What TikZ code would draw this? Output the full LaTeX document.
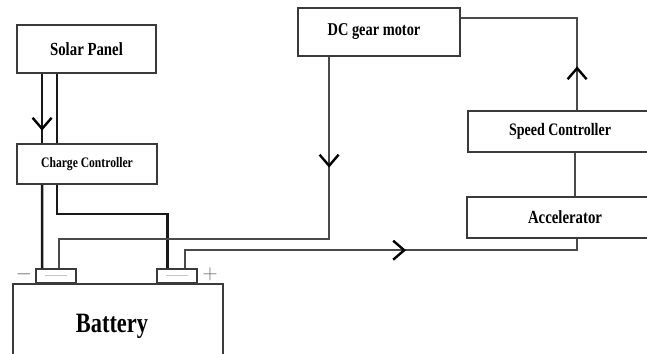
\documentclass[tikz,border=0pt]{standalone}
\usepackage{fontspec}
\setmainfont{Liberation Serif}[FakeStretch=0.8]
\usepackage{xcolor}
\usetikzlibrary{arrows.meta,positioning,calc,decorations.markings}
\definecolor{boxgray}{HTML}{3A3A3A}
\definecolor{wiregray}{HTML}{4A4A4A}
\newcommand{\fs}[1]{\fontsize{#1}{#1}\selectfont}

\begin{document}
\begin{tikzpicture}[
  x=1pt, y=-1pt,
  font=\bfseries,
  box/.style={draw=boxgray, line width=1.8pt, align=center, inner sep=0pt},
  term/.style={draw=boxgray, line width=1.6pt, minimum width=40pt, minimum height=14pt, inner sep=0pt},
  sign/.style={text=black!60, font=\normalfont\fs{22}, inner sep=0pt},
  wire/.style={draw=wiregray, line width=1.8pt},
  power/.style={draw=black!90, line width=2.6pt},
  >={Straight Barb[length=11pt,width=19pt,line width=2.4pt]},
  mid/.style={postaction={decorate}, decoration={markings,
              mark=at position #1 with {\arrow[black]{>}}}}
]
\clip (0,0) rectangle (647,353);

% blocks
\node[box, minimum width=139pt, minimum height=48pt] (solar) at (86.5,49) {\fs{18.5}Solar Panel};
\node[box, minimum width=140pt, minimum height=40pt] (charge) at (87,164) {\fs{14.5}Charge Controller};
\node[box, minimum width=162pt, minimum height=48pt] (motor) at (379,32) {\fs{18}DC gear motor\hspace*{10pt}};
\node[box, minimum width=184pt, minimum height=41pt] (speed) at (560,131.5) {\fs{17.5}Speed Controller};
\node[box, minimum width=196pt, minimum height=41pt] (accel) at (565,217.5) {\fs{18.5}Accelerator};
\node[box, minimum width=210pt, minimum height=84pt] (battery) at (118,326) {\fs{28}Battery\hspace*{12pt}};

% battery terminals
\node[term] (neg) at (56,276) {};
\node[term] (pos) at (177,276) {};
\draw[gray!45, line width=0.8pt] ($(neg.center)+(-11,-1)$) -- ($(neg.center)+(11,-1)$);
\draw[gray!45, line width=0.8pt] ($(pos.center)+(-11,-1)$) -- ($(pos.center)+(11,-1)$);
\node[sign] (minus) at (24,274) {$-$};
\node[sign] (plus) at (210,274) {$+$};

% charging side
\draw[power, mid=0.82] ([xshift=26pt]solar.south west) -- ([xshift=26pt]charge.north west);
\draw[power] ([xshift=41pt]solar.south west) -- ([xshift=41pt]charge.north west);
\draw[power] ([xshift=26pt]charge.south west) -- ([xshift=7pt]neg.north west);
\draw[power] ([xshift=41pt]charge.south west) -- ++(0,29) -| ([xshift=11pt]pos.north west);

% drive side
\draw[wire, mid=0.23] ([xshift=32pt]motor.south west) -- ++(0,182) -| ([xshift=24pt]neg.north west);
\draw[wire, mid=0.567] ([xshift=29pt]pos.north west) -- ++(0,-18) -| ([xshift=111pt]accel.south west);
\draw[wire] ([xshift=109pt]accel.north west) -- ([xshift=108pt]speed.south west);
\draw[wire, mid=0.21] ([xshift=110pt]speed.north west) |- ([yshift=-11pt]motor.north east);
\end{tikzpicture}
\end{document}
